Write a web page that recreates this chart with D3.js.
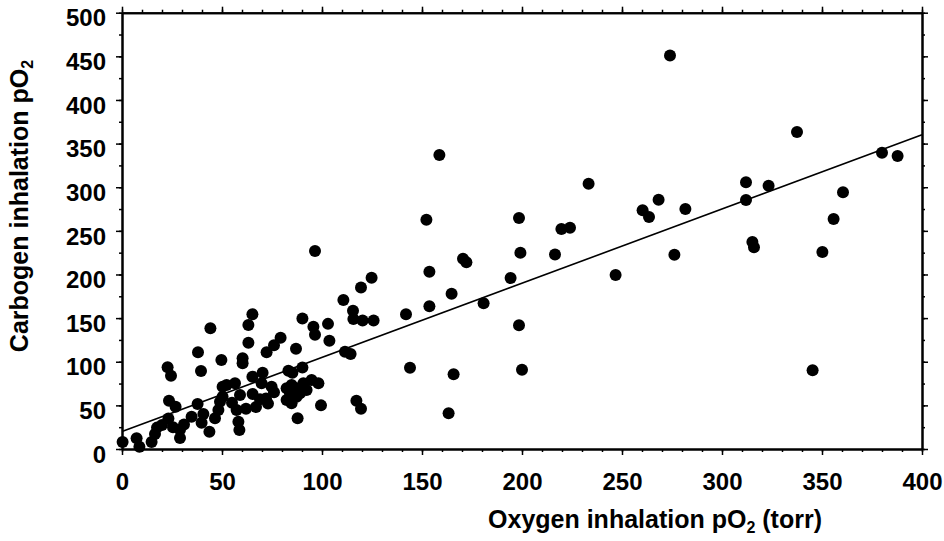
<!DOCTYPE html>
<html>
<head>
<meta charset="utf-8">
<script src="https://cdn.jsdelivr.net/npm/d3@7/dist/d3.min.js"></script>
<style>
  html, body { margin: 0; padding: 0; background: #fff; }
  svg { display: block; }
  text { font-family: "Liberation Sans", Arial, Helvetica, sans-serif; font-weight: bold; fill: #000; }
</style>
</head>
<body>
<div id="chart"></div>
<script>
// oxygen inhalation pO2 (x) and carbogen inhalation pO2 (y)
const oxygenPO2 = [
  0.3, 7.3, 8.7, 14.8, 16.5, 17.5, 20, 22.8, 24.5, 23.5, 26.8, 23.2, 25.5, 29, 31, 29, 34.8, 38, 39.5, 37.8,
  40.7, 39.8, 43.7, 44.2, 49.7, 46.5, 48.2, 49, 50.3, 52.3, 56.5, 50.3, 55, 57.3, 58.2, 58.7, 59, 60.3, 60.3, 63.2,
  63.2, 65.2, 65.2, 62, 67, 70.3, 72.3, 76, 79.3, 69.8, 74.8, 72, 76, 73, 65.3, 69, 83.2, 85.2, 82.3, 84.8,
  87.3, 84, 89, 92.3, 90.7, 94.8, 98.2, 82.3, 84.8, 87.3, 99.5, 87.8, 87, 90.2, 90.2, 95.7, 96.5, 96.5, 103, 103.7,
  111.5, 114.3, 110.7, 119.5, 115.5, 115.7, 120.3, 125.8, 124.8, 117.2, 119.5, 142, 144, 152.2, 153.7, 153.7, 158.7, 163.3, 164.8, 165.8,
  170.5, 172.2, 180.8, 194.3, 198.5, 199.2, 198.5, 200, 216.5, 219.7, 224, 233.3, 246.8, 260.3, 263.5, 268.3, 274, 276.2, 281.7, 312,
  312, 323.3, 315.2, 316, 337.5, 345.3, 350.2, 355.8, 360.5, 380, 387.8
];
const carbogenPO2 = [
  8, 12.2, 2.7, 8, 17.2, 24.5, 27.5, 93.6, 84, 55.4, 48.5, 35, 25, 22, 28, 12.5, 37, 111, 89.5, 51.6,
  40.1, 30.2, 19.8, 138.3, 102, 35.2, 44.7, 54.2, 71.4, 73.3, 75.3, 60, 53, 44.7, 31.3, 21.8, 61.9, 104, 98.2, 142.1,
  121.8, 154.5, 82.9, 46, 48, 87.4, 111, 119, 127.5, 75.3, 71.4, 58, 65, 52, 63, 57, 89.7, 87.4, 69.6, 73.3,
  69.6, 63.8, 63.8, 67.6, 75.3, 79, 75.3, 56.2, 52.4, 60, 50, 35.2, 114.9, 93.4, 149.5, 140.2, 131, 227, 143.4, 124,
  111.5, 108.9, 170.8, 185, 158.5, 149, 147.2, 147.2, 196.3, 55.2, 46, 154.3, 93, 262.8, 203.2, 163.7, 337, 40.9, 177.8, 85.6,
  218.1, 214, 167, 196, 264.7, 224.8, 141.7, 90.9, 223, 252.1, 253.6, 304, 199.4, 273.5, 266, 285.7, 451, 222.6, 275, 305.6,
  285.4, 301.8, 237.2, 231.1, 363.3, 90.2, 225.8, 263.6, 294.2, 339.6, 335.8
];

// linear fit drawn across the plot
const fitIntercept = 20;
const fitSlope = 0.85;

const xMajorTicks = [0, 50, 100, 150, 200, 250, 300, 350, 400];
const yMajorTicks = [0, 50, 100, 150, 200, 250, 300, 350, 400, 450, 500];
const xMinorTicks = d3.range(0, 401, 10);
const yMinorTicks = d3.range(0, 501, 25);

const width = 944, height = 541;
const plot = { left: 122, right: 922, top: 12.7, bottom: 449 };

const svg = d3.select('#chart').append('svg')
  .attr('width', width)
  .attr('height', height);

const x = d3.scaleLinear().domain([0, 400]).range([plot.left, plot.right]);
const y = d3.scaleLinear().domain([0, 500]).range([plot.bottom, plot.top]);

// frame + ticks (ticks pointing outward on all four sides)
function frameAxis(axis, transform, values, size) {
  const g = svg.append('g')
    .attr('transform', transform)
    .call(axis.tickValues(values).tickSize(size).tickSizeOuter(0).tickFormat(''));
  g.selectAll('line').attr('stroke', '#000').attr('stroke-width', 1.5);
  g.select('.domain').attr('stroke', '#000').attr('stroke-width', 2);
  return g;
}

frameAxis(d3.axisBottom(x), `translate(0,${plot.bottom})`, xMinorTicks, 3);
frameAxis(d3.axisBottom(x), `translate(0,${plot.bottom})`, xMajorTicks, 6);
frameAxis(d3.axisTop(x), `translate(0,${plot.top})`, xMinorTicks, 3);
frameAxis(d3.axisTop(x), `translate(0,${plot.top})`, xMajorTicks, 6);
frameAxis(d3.axisLeft(y), `translate(${plot.left},0)`, yMinorTicks, 3);
frameAxis(d3.axisLeft(y), `translate(${plot.left},0)`, yMajorTicks, 6);
frameAxis(d3.axisRight(y), `translate(${plot.right},0)`, yMinorTicks, 3);
frameAxis(d3.axisRight(y), `translate(${plot.right},0)`, yMajorTicks, 6);

// tick labels
const xLabels = svg.append('g')
  .attr('transform', `translate(0,${plot.bottom})`)
  .call(d3.axisBottom(x).tickValues(xMajorTicks).tickSize(0).tickPadding(24).tickFormat(d3.format('d')));
xLabels.select('.domain').remove();
xLabels.selectAll('text').attr('font-size', 24).attr('font-family', null);

const yLabels = svg.append('g')
  .attr('transform', `translate(${plot.left},0)`)
  .call(d3.axisLeft(y).tickValues(yMajorTicks).tickSize(0).tickPadding(16).tickFormat(d3.format('d')));
yLabels.select('.domain').remove();
yLabels.selectAll('text').attr('font-size', 24).attr('font-family', null).attr('dy', '0.55em');

// regression line
svg.append('line')
  .attr('x1', x(0)).attr('y1', y(fitIntercept))
  .attr('x2', x(400)).attr('y2', y(fitIntercept + fitSlope * 400))
  .attr('stroke', '#000')
  .attr('stroke-width', 1.6);

// points
svg.append('g')
  .selectAll('circle')
  .data(oxygenPO2.map((v, i) => [v, carbogenPO2[i]]))
  .join('circle')
  .attr('cx', d => x(d[0]))
  .attr('cy', d => y(d[1]))
  .attr('r', 6)
  .attr('fill', '#000');

// axis titles
const xTitle = svg.append('text')
  .attr('x', 655)
  .attr('y', 528)
  .attr('text-anchor', 'middle')
  .attr('font-size', 25);
xTitle.append('tspan').text('Oxygen inhalation pO');
xTitle.append('tspan').text('2').attr('font-size', 16).attr('dy', 5);
xTitle.append('tspan').text(' (torr)').attr('dy', -5);

const yTitle = svg.append('text')
  .attr('transform', 'translate(28,206) rotate(-90)')
  .attr('text-anchor', 'middle')
  .attr('font-size', 25);
yTitle.append('tspan').text('Carbogen inhalation pO');
yTitle.append('tspan').text('2').attr('font-size', 16).attr('dy', 5);
</script>
</body>
</html>
